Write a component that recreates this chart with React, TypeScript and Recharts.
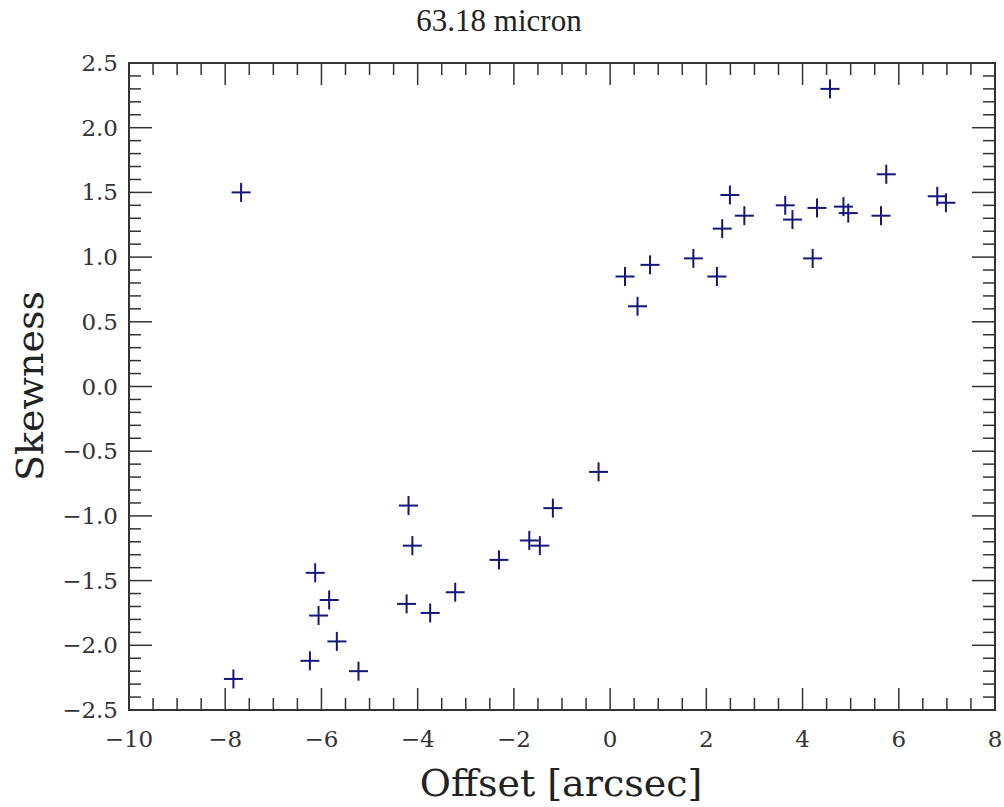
import { ScatterChart, Scatter, XAxis, YAxis } from 'recharts'

// offsets [arcsec] and skewness
const offsets = [
  -7.67, -7.83, -6.24, -5.23, -4.19, -4.11, -6.13, -5.84, -6.06, -5.68,
  -4.23, -3.74, -3.22, -2.31, -1.68, -1.46, -1.19, -0.24,
  0.31, 0.57, 0.83, 1.73, 2.22, 2.33, 2.49, 2.79, 3.64, 3.79,
  4.3, 4.21, 4.57, 4.85, 4.95, 5.63, 5.74, 6.8, 6.98,
]
const skewness = [
  1.5, -2.26, -2.12, -2.2, -0.92, -1.23, -1.44, -1.65, -1.77, -1.97,
  -1.68, -1.75, -1.59, -1.34, -1.19, -1.23, -0.94, -0.66,
  0.85, 0.62, 0.94, 0.99, 0.85, 1.22, 1.48, 1.32, 1.4, 1.29,
  1.38, 0.99, 2.3, 1.39, 1.34, 1.32, 1.64, 1.47, 1.42,
]

const xMajorTicks = [-10, -8, -6, -4, -2, 0, 2, 4, 6, 8]
const xMinorStep = 0.5
const yMajorTicks = [-2.5, -2.0, -1.5, -1.0, -0.5, 0.0, 0.5, 1.0, 1.5, 2.0, 2.5]
const yMinorStep = 0.1

const title = '63.18 micron'
const xTitle = 'Offset [arcsec]'
const yTitle = 'Skewness'

const points = offsets.map((x, i) => ({ x, y: skewness[i] }))

const buildTicks = (major: number[], step: number) => {
  const out: number[] = []
  const lo = major[0]
  const hi = major[major.length - 1]
  const n = Math.round((hi - lo) / step)
  for (let i = 0; i <= n; i++) out.push(Math.round((lo + i * step) * 1000) / 1000)
  return out
}
const xTicks = buildTicks(xMajorTicks, xMinorStep)
const yTicks = buildTicks(yMajorTicks, yMinorStep)

const isMajor = (v: number, major: number[]) => major.some((m) => Math.abs(m - v) < 1e-6)
const minus = (s: string) => s.replace('-', '\u2212')

const AXIS = '#333'
const MARK = '#15157a'
const TICK_FONT = { fontFamily: 'DejaVu Serif', fontSize: 23, fill: '#333' }

// plot box edges in px
const PLOT = { left: 129, right: 995, top: 63, bottom: 710 }

const BottomTick = (p: any) => {
  const v = p.payload.value
  const major = isMajor(v, xMajorTicks)
  const y = PLOT.bottom
  return (
    <g>
      <line x1={p.x} x2={p.x} y1={y} y2={y - (major ? 22 : 12)} stroke={AXIS} strokeWidth={1.5} />
      {major && (
        <text x={p.x} y={y + 37} textAnchor="middle" {...TICK_FONT}>
          {minus(String(v))}
        </text>
      )}
    </g>
  )
}

const TopTick = (p: any) => {
  const major = isMajor(p.payload.value, xMajorTicks)
  const y = PLOT.top
  return <line x1={p.x} x2={p.x} y1={y} y2={y + (major ? 22 : 12)} stroke={AXIS} strokeWidth={1.5} />
}

const LeftTick = (p: any) => {
  const v = p.payload.value
  const major = isMajor(v, yMajorTicks)
  const x = PLOT.left
  return (
    <g>
      <line x1={x} x2={x + (major ? 23 : 12)} y1={p.y} y2={p.y} stroke={AXIS} strokeWidth={1.5} />
      {major && (
        <text x={x - 11} y={p.y} dy={8} textAnchor="end" {...TICK_FONT}>
          {minus(v.toFixed(1))}
        </text>
      )}
    </g>
  )
}

const RightTick = (p: any) => {
  const major = isMajor(p.payload.value, yMajorTicks)
  const x = PLOT.right
  return <line x1={x} x2={x - (major ? 23 : 12)} y1={p.y} y2={p.y} stroke={AXIS} strokeWidth={1.5} />
}

const Plus = (p: any) => {
  const { cx, cy } = p
  const r = 9.5
  return (
    <g stroke={MARK} strokeWidth={2}>
      <line x1={cx - r} x2={cx + r} y1={cy} y2={cy} />
      <line x1={cx} x2={cx} y1={cy - r} y2={cy + r} />
    </g>
  )
}

const Empty = () => <g />

export default function App() {
  return (
    <div style={{ position: 'absolute', left: 0, top: 0, width: 1004, height: 807, background: '#fff' }}>
      <ScatterChart
        width={1004}
        height={807}
        margin={{ top: PLOT.top - 1, right: 1004 - PLOT.right - 1, bottom: 807 - PLOT.bottom - 1, left: PLOT.left - 1 }}
      >
        <XAxis
          type="number"
          dataKey="x"
          domain={[-10, 8]}
          ticks={xTicks}
          interval={0}
          allowDataOverflow
          height={1}
          tickSize={0}
          tickMargin={0}
          tickLine={false}
          axisLine={false}
          tick={BottomTick}
        />
        <XAxis
          xAxisId="top"
          orientation="top"
          type="number"
          dataKey="x"
          domain={[-10, 8]}
          ticks={xTicks}
          interval={0}
          allowDataOverflow
          height={1}
          tickSize={0}
          tickMargin={0}
          tickLine={false}
          axisLine={false}
          tick={TopTick}
        />
        <YAxis
          type="number"
          dataKey="y"
          domain={[-2.5, 2.5]}
          ticks={yTicks}
          interval={0}
          allowDataOverflow
          width={1}
          tickSize={0}
          tickMargin={0}
          tickLine={false}
          axisLine={false}
          tick={LeftTick}
        />
        <YAxis
          yAxisId="right"
          orientation="right"
          type="number"
          dataKey="y"
          domain={[-2.5, 2.5]}
          ticks={yTicks}
          interval={0}
          allowDataOverflow
          width={1}
          tickSize={0}
          tickMargin={0}
          tickLine={false}
          axisLine={false}
          tick={RightTick}
        />
        <Scatter data={points} xAxisId="top" yAxisId="right" shape={Empty} isAnimationActive={false} />
        <Scatter data={points} shape={Plus} isAnimationActive={false} />
      </ScatterChart>
      <svg
        width={1004}
        height={807}
        style={{ position: 'absolute', left: 0, top: 0, pointerEvents: 'none' }}
      >
        <rect
          x={PLOT.left}
          y={PLOT.top}
          width={PLOT.right - PLOT.left}
          height={PLOT.bottom - PLOT.top}
          fill="none"
          stroke={AXIS}
          strokeWidth={2}
        />
      </svg>
      <div
        style={{
          position: 'absolute',
          left: 499,
          top: 20,
          transform: 'translate(-50%, -50%)',
          fontFamily: 'Liberation Serif',
          fontSize: 31,
          color: '#222',
          whiteSpace: 'nowrap',
          lineHeight: 1,
        }}
      >
        {title}
      </div>
      <div
        style={{
          position: 'absolute',
          left: 561,
          top: 783,
          transform: 'translate(-50%, -50%)',
          fontFamily: 'DejaVu Serif',
          fontSize: 38,
          color: '#222',
          whiteSpace: 'nowrap',
          lineHeight: 1,
        }}
      >
        {xTitle}
      </div>
      <div
        style={{
          position: 'absolute',
          left: 30,
          top: 386,
          transform: 'translate(-50%, -50%) rotate(-90deg)',
          fontFamily: 'DejaVu Serif',
          fontSize: 38,
          color: '#222',
          whiteSpace: 'nowrap',
          lineHeight: 1,
        }}
      >
        {yTitle}
      </div>
    </div>
  )
}
